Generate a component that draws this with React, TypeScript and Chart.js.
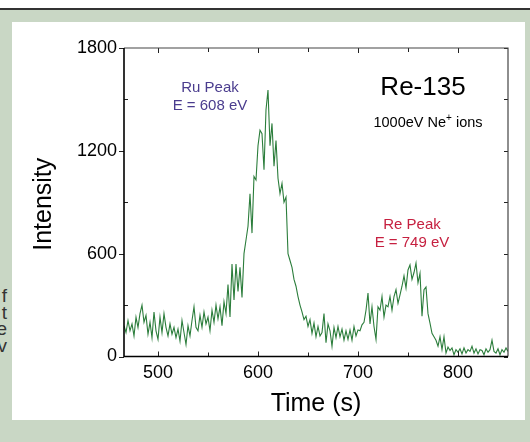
import React, { useEffect, useRef } from 'react';
import { Chart, registerables } from 'chart.js';

Chart.register(...registerables);

// Sampling grid (s)
const TIME_START = 466;
const TIME_STEP = 2;

// Intensity, one value every 2 s from 466 s to 850 s
const intensity = [
  180, 140, 210, 150, 190, 120, 230, 170, 250, 300,
  200, 240, 130, 200, 110, 260, 150, 100, 230, 140,
  250, 170, 120, 190, 130, 170, 110, 160, 90, 210,
  140, 70, 180, 120, 210, 290, 170, 150, 240, 170,
  260, 190, 230, 150, 270, 200, 300, 220, 290, 180,
  320, 250, 420, 230, 540, 330, 540, 380, 520, 345,
  600, 680, 760, 950, 720, 1050, 1030, 1230, 1320, 1300,
  1090, 1440, 1555, 1230, 1360, 1110, 1260, 1040, 950, 1010,
  900, 930, 600, 560, 520, 450, 410, 350, 300, 260,
  215, 235, 175, 215, 135, 195, 115, 175, 120, 140,
  250, 80, 190, 150, 60, 170, 110, 175, 115, 160,
  95, 150, 100, 155, 95, 175, 120, 155, 150, 185,
  200, 270, 370, 190, 290, 175, 100, 290, 270, 350,
  230, 300, 290, 350, 270, 350, 390, 310, 360, 410,
  470, 400, 505, 535, 450, 490, 545, 430, 485, 235,
  390, 405, 250, 195, 135, 115, 95, 60, 115, 40,
  115, 20, 55, 35, 50, 10, 40, 25, 45, 15,
  50, 20, 40, 30, 60, 20, 45, 15, 40, 35,
  10, 45, 25, 40, 95, 30, 20, 45, 10, 40,
  25, 50, 30,
];

const times = intensity.map((_, i) => TIME_START + i * TIME_STEP);

const X_MIN = 466;
const X_MAX = 850;
const Y_MIN = 0;
const Y_MAX = 1800;
const X_TICKS = [500, 550, 600, 650, 700, 750, 800];
const X_LABELS = [500, 600, 700, 800];
const Y_TICKS = [0, 300, 600, 900, 1200, 1500, 1800];
const Y_LABELS = [0, 600, 1200, 1800];

const X_TITLE = 'Time (s)';
const Y_TITLE = 'Intensity';
const SAMPLE_TITLE = 'Re-135';
const ION_TEXT = ['1000eV Ne', '+', ' ions'];
const RU_LABEL = ['Ru Peak', 'E = 608 eV'];
const RE_LABEL = ['Re Peak', 'E = 749 eV'];
const LEFT_FRAGMENTS = ['f', 't', 'e', 'v'];

const FONT = "'Liberation Sans', Arial, Helvetica, sans-serif";
const LINE_COLOR = '#2b7d3b';
const RU_COLOR = '#4a3c8e';
const RE_COLOR = '#c62040';
const BG_GREEN = '#c9d7c5';

const decorPlugin = {
  id: 'decor',
  afterDatasetsDraw(chart: any) {
    const { ctx, chartArea, scales } = chart;
    const { left, right, top, bottom } = chartArea;
    const xs = scales.x;
    const ys = scales.y;
    ctx.save();

    // tick marks
    ctx.strokeStyle = '#222';
    ctx.lineWidth = 1;
    ctx.beginPath();
    X_TICKS.forEach((v) => {
      const px = Math.round(xs.getPixelForValue(v)) + 0.5;
      const len = X_LABELS.includes(v) ? 5 : 4;
      ctx.moveTo(px, bottom);
      ctx.lineTo(px, bottom - len);
      ctx.moveTo(px, top);
      ctx.lineTo(px, top + len);
    });
    Y_TICKS.forEach((v) => {
      const py = Math.round(ys.getPixelForValue(v)) + 0.5;
      if (Y_LABELS.includes(v)) {
        ctx.moveTo(left - 5, py);
        ctx.lineTo(left, py);
      } else {
        ctx.moveTo(left, py);
        ctx.lineTo(left + 4, py);
      }
      ctx.moveTo(right, py);
      ctx.lineTo(right - 4, py);
    });
    ctx.stroke();

    // frame
    ctx.strokeStyle = '#444';
    ctx.lineWidth = 1.2;
    ctx.beginPath();
    ctx.moveTo(left, top);
    ctx.lineTo(right, top);
    ctx.lineTo(right, bottom);
    ctx.stroke();
    ctx.strokeStyle = '#000';
    ctx.lineWidth = 1.6;
    ctx.beginPath();
    ctx.moveTo(left, top);
    ctx.lineTo(left, bottom);
    ctx.lineTo(right, bottom);
    ctx.stroke();

    // annotations
    ctx.textAlign = 'center';
    ctx.textBaseline = 'middle';

    ctx.fillStyle = RU_COLOR;
    ctx.font = `15px ${FONT}`;
    ctx.fillText(RU_LABEL[0], xs.getPixelForValue(552), ys.getPixelForValue(1566));
    ctx.fillText(RU_LABEL[1], xs.getPixelForValue(552), ys.getPixelForValue(1462));

    ctx.fillStyle = RE_COLOR;
    ctx.fillText(RE_LABEL[0], xs.getPixelForValue(754), ys.getPixelForValue(767));
    ctx.fillText(RE_LABEL[1], xs.getPixelForValue(754), ys.getPixelForValue(662));

    ctx.fillStyle = '#000';
    ctx.font = `26px ${FONT}`;
    ctx.fillText(SAMPLE_TITLE, xs.getPixelForValue(765), ys.getPixelForValue(1567));

    // ions line with superscript
    const ionX = xs.getPixelForValue(770);
    const ionY = ys.getPixelForValue(1362);
    ctx.font = `14.5px ${FONT}`;
    const w0 = ctx.measureText(ION_TEXT[0]).width;
    const w2 = ctx.measureText(ION_TEXT[2]).width;
    ctx.font = `10px ${FONT}`;
    const w1 = ctx.measureText(ION_TEXT[1]).width;
    const total = w0 + w1 + w2;
    let cx = ionX - total / 2;
    ctx.textAlign = 'left';
    ctx.font = `14.5px ${FONT}`;
    ctx.fillText(ION_TEXT[0], cx, ionY);
    cx += w0;
    ctx.font = `10px ${FONT}`;
    ctx.fillText(ION_TEXT[1], cx, ionY - 5);
    cx += w1;
    ctx.font = `14.5px ${FONT}`;
    ctx.fillText(ION_TEXT[2], cx, ionY);

    // axis titles
    ctx.textAlign = 'center';
    ctx.font = `25px ${FONT}`;
    ctx.fillStyle = '#000';
    ctx.fillText(X_TITLE, (left + right) / 2, 382);
    ctx.save();
    ctx.translate(32, (top + bottom) / 2 + 2);
    ctx.rotate(-Math.PI / 2);
    ctx.fillText(Y_TITLE, 0, 0);
    ctx.restore();

    ctx.restore();
  },
};

export default function App() {
  const ref = useRef<HTMLCanvasElement | null>(null);

  useEffect(() => {
    if (!ref.current) return;
    const chart = new Chart(ref.current, {
      type: 'line',
      data: {
        datasets: [
          {
            data: times.map((t, i) => ({ x: t, y: intensity[i] })),
            borderColor: LINE_COLOR,
            borderWidth: 1.1,
            pointRadius: 0,
            tension: 0,
            fill: false,
          },
        ],
      },
      options: {
        responsive: false,
        animation: false,
        devicePixelRatio: 1,
        layout: { padding: { left: 0, right: 17, top: 26, bottom: 0 } },
        plugins: { legend: { display: false }, tooltip: { enabled: false } },
        scales: {
          x: {
            type: 'linear',
            min: X_MIN,
            max: X_MAX,
            afterBuildTicks: (s: any) => {
              s.ticks = X_TICKS.map((v) => ({ value: v }));
            },
            afterFit: (s: any) => {
              s.height = 63.5;
            },
            grid: { display: false, drawTicks: false },
            border: { display: false },
            ticks: {
              padding: 6,
              autoSkip: false,
              maxRotation: 0,
              color: '#000',
              font: { family: FONT, size: 18 },
              callback: (v: any) => (X_LABELS.includes(Number(v)) ? String(v) : ''),
            },
          },
          y: {
            type: 'linear',
            min: Y_MIN,
            max: Y_MAX,
            afterBuildTicks: (s: any) => {
              s.ticks = Y_TICKS.map((v) => ({ value: v }));
            },
            afterFit: (s: any) => {
              s.width = 112;
            },
            grid: { display: false, drawTicks: false },
            border: { display: false },
            ticks: {
              padding: 7,
              autoSkip: false,
              color: '#000',
              font: { family: FONT, size: 18 },
              callback: (v: any) => (Y_LABELS.includes(Number(v)) ? String(v) : ''),
            },
          },
        },
      },
      plugins: [decorPlugin],
    });
    return () => chart.destroy();
  }, []);

  return (
    <div
      style={{
        position: 'fixed',
        left: 0,
        top: 0,
        width: 530,
        height: 442,
        background: BG_GREEN,
        overflow: 'hidden',
      }}
    >
      <div style={{ position: 'absolute', left: 0, top: 0, width: 530, height: 8, background: '#fff' }} />
      <div style={{ position: 'absolute', left: 0, top: 8, width: 530, height: 1.5, background: '#333' }} />
      <div
        style={{
          position: 'absolute',
          left: -10,
          top: 288,
          width: 17,
          textAlign: 'right',
          fontFamily: FONT,
          fontSize: 19,
          lineHeight: '16.5px',
          color: '#333',
        }}
      >
        {LEFT_FRAGMENTS.map((f, i) => (
          <div key={i}>{f}</div>
        ))}
      </div>
      <div style={{ position: 'absolute', left: 12, top: 22, width: 513, height: 398, background: '#fff' }}>
        <canvas ref={ref} width={513} height={398} style={{ display: 'block' }} />
      </div>
    </div>
  );
}
